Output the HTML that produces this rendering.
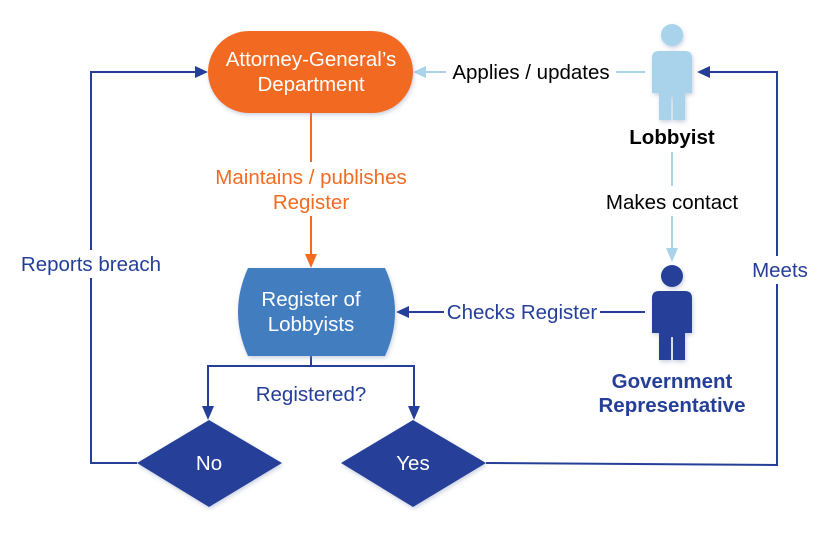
<!DOCTYPE html>
<html><head><meta charset="utf-8"><style>
html,body{margin:0;padding:0;background:#fff;}
svg{display:block;font-family:"Liberation Sans",Arial,sans-serif;}
</style></head><body>
<svg width="830" height="540" viewBox="0 0 830 540" xmlns="http://www.w3.org/2000/svg">
<defs>
<filter id="sh" x="-20%" y="-20%" width="140%" height="150%"><feDropShadow dx="1" dy="2" stdDeviation="2" flood-color="#8899bb" flood-opacity="0.45"/></filter>
</defs>
<g font-size="20.5">
<!-- left loop -->
<polyline points="137,463 91,463 91,72 196,72" fill="none" stroke="#253F99" stroke-width="2"/>
<polygon points="208,72 195,66 195,78" fill="#253F99"/>
<rect x="14" y="250" width="156" height="28" fill="#fff"/>
<text x="91" y="271" fill="#253F99" text-anchor="middle">Reports breach</text>
<!-- right loop -->
<polyline points="486,463 777,465 777,72 709,72" fill="none" stroke="#253F99" stroke-width="2"/>
<polygon points="697,72 710,66 710,78" fill="#253F99"/>
<rect x="748" y="256" width="66" height="28" fill="#fff"/>
<text x="780" y="277" fill="#253F99" text-anchor="middle">Meets</text>
<!-- applies -->
<line x1="645" y1="72" x2="425" y2="72" stroke="#A8D3EA" stroke-width="2"/>
<polygon points="413,72 426,66 426,78" fill="#A8D3EA"/>
<rect x="446" y="58" width="170" height="28" fill="#fff"/>
<text x="531" y="79" fill="#000" text-anchor="middle">Applies / updates</text>
<!-- makes contact -->
<line x1="672" y1="152" x2="672" y2="250" stroke="#A8D3EA" stroke-width="2"/>
<polygon points="672,262 666,248 678,248" fill="#A8D3EA"/>
<rect x="596" y="186" width="152" height="30" fill="#fff"/>
<text x="672" y="209" fill="#000" text-anchor="middle">Makes contact</text>
<!-- checks register -->
<line x1="645" y1="312" x2="408" y2="312" stroke="#253F99" stroke-width="2"/>
<polygon points="396,312 409,306 409,318" fill="#253F99"/>
<rect x="444" y="298" width="156" height="28" fill="#fff"/>
<text x="522" y="319" fill="#253F99" text-anchor="middle">Checks Register</text>
<!-- orange -->
<line x1="311" y1="113" x2="311" y2="256" stroke="#F26B21" stroke-width="2"/>
<polygon points="311,268 305,254 317,254" fill="#F26B21"/>
<rect x="206" y="162" width="210" height="54" fill="#fff"/>
<text x="311" y="184" fill="#F26B21" text-anchor="middle">Maintains / publishes</text>
<text x="311" y="209" fill="#F26B21" text-anchor="middle">Register</text>
<!-- branch -->
<polyline points="311,356 311,366 208,366 208,410" fill="none" stroke="#253F99" stroke-width="2"/>
<polyline points="311,366 414,366 414,410" fill="none" stroke="#253F99" stroke-width="2"/>
<polygon points="208,420 202,406 214,406" fill="#253F99"/>
<polygon points="414,420 408,406 420,406" fill="#253F99"/>
<text x="311" y="401" fill="#253F99" text-anchor="middle">Registered?</text>
<!-- attorney -->
<rect x="208" y="31" width="205" height="82" rx="41" fill="#F26B21" filter="url(#sh)"/>
<text x="311" y="66" fill="#fff" text-anchor="middle">Attorney-General’s</text>
<text x="311" y="91" fill="#fff" text-anchor="middle">Department</text>
<!-- register -->
<path d="M248,268 L385,268 Q405,312 385,356 L248,356 Q228,312 248,268 Z" fill="#437DC0" filter="url(#sh)"/>
<text x="311" y="306" fill="#fff" text-anchor="middle">Register of</text>
<text x="311" y="331" fill="#fff" text-anchor="middle">Lobbyists</text>
<!-- diamonds -->
<polygon points="209,420 282,463 209,507 137,463" fill="#253F99" filter="url(#sh)"/>
<text x="209" y="470" fill="#fff" text-anchor="middle">No</text>
<polygon points="413,420 486,463 413,507 341,463" fill="#253F99" filter="url(#sh)"/>
<text x="413" y="470" fill="#fff" text-anchor="middle">Yes</text>
<!-- lobbyist figure -->
<g fill="#A8D3EA" filter="url(#sh)">
<circle cx="672" cy="35" r="11"/>
<path d="M652,58 Q652,51 659,51 L685,51 Q692,51 692,58 L692,93 L685,93 L685,120 L673,120 L673,97 L671,97 L671,120 L659,120 L659,93 L652,93 Z"/>
</g>
<text x="672" y="144" font-weight="bold" fill="#000" text-anchor="middle">Lobbyist</text>
<!-- gov figure -->
<g fill="#253F99" filter="url(#sh)">
<circle cx="672" cy="276" r="11"/>
<path d="M652,298 Q652,291 659,291 L685,291 Q692,291 692,298 L692,333 L685,333 L685,360 L673,360 L673,337 L671,337 L671,360 L659,360 L659,333 L652,333 Z"/>
</g>
<text x="672" y="388" font-weight="bold" fill="#253F99" text-anchor="middle">Government</text>
<text x="672" y="412" font-weight="bold" fill="#253F99" text-anchor="middle">Representative</text>
</g>
</svg>
</body></html>
